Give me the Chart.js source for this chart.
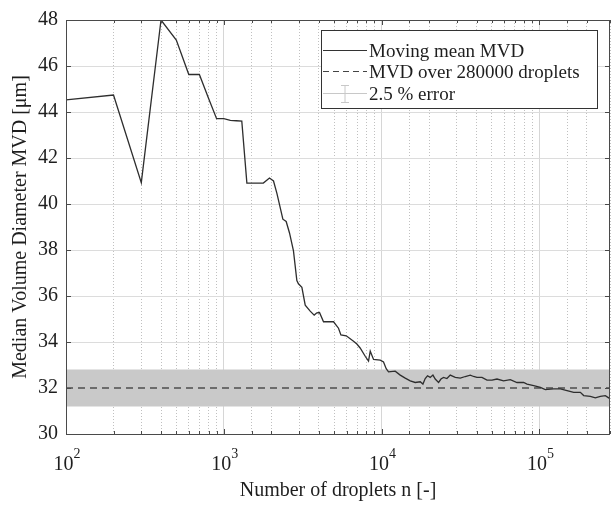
<!DOCTYPE html>
<html><head><meta charset="utf-8">
<script src="https://cdn.jsdelivr.net/npm/chart.js@4/dist/chart.umd.min.js"></script>
<style>html,body{margin:0;padding:0;background:#fff}#wrap{width:612px;height:508px}</style>
</head><body><div id="wrap"><canvas id="c" width="612" height="508"></canvas></div>
<script>
// ---- data ----
const dropletCounts = [100,200,300,400,500,600,700,800,900,1000,1100,1200,1300,1400,1780,1947,2065,2170,2367,2484,2608,2763,2903,2971,3124,3280,3526,3738,3889,4040,4283,4957,5330,5521,5967,6640,6970,7310,7870,8260,8470,8890,9800,10280,10690,11060,12190,13120,14110,15180,16330,17570,18270,18890,19530,20320,21140,21860,22950,23770,24680,25930,27220,29290,31510,33890,36460,38260,40190,43240,46520,50050,53850,59300,65370,72060,79430,83440,91970,101400,108900,123000,135700,149600,164900,181700,190700,210200,226100,243200,261600,274700,280000];
const movingMeanMVD = [44.53,44.74,40.93,48.0,47.13,45.63,45.63,44.6,43.71,43.71,43.64,43.62,43.6,40.91,40.91,41.13,41.0,40.46,39.34,39.24,38.74,37.96,36.67,36.53,36.38,35.6,35.34,35.17,35.27,35.28,34.88,34.88,34.6,34.31,34.27,34.03,33.91,33.74,33.38,33.17,33.6,33.24,33.21,33.13,32.84,32.7,32.73,32.56,32.43,32.31,32.24,32.27,32.17,32.41,32.53,32.46,32.56,32.39,32.24,32.39,32.46,32.41,32.56,32.46,32.43,32.5,32.56,32.5,32.46,32.46,32.34,32.34,32.39,32.31,32.36,32.24,32.24,32.17,32.1,32.03,31.93,31.96,31.96,31.89,31.81,31.81,31.67,31.64,31.57,31.64,31.67,31.57,31.6];
const overallMVD = 32.0;
const bandX = [100, 280000];
const bandUpper = [32.8, 32.8];
const bandLower = [31.2, 31.2];
const xTickExponents = [2, 3, 4, 5];
const yTickValues = [30, 32, 34, 36, 38, 40, 42, 44, 46, 48];
const legendLabels = ['Moving mean MVD', 'MVD over 280000 droplets', '2.5 % error'];
const xTitle = 'Number of droplets n [-]';
const yTitle = 'Median Volume Diameter MVD [μm]';

// ---- styling ----
const FONT = "'Liberation Serif', 'Times New Roman', serif";
const TEXT = '#1e1e1e';
const AXIS = '#4a4a4a';
const isMajor = v => Math.abs(Math.log10(v) - Math.round(Math.log10(v))) < 1e-9;

const pts = (xs, ys) => xs.map((x, i) => ({x, y: ys[i]}));

const decorPlugin = {
  id: 'decor',
  afterDraw(chart) {
    const ctx = chart.ctx, a = chart.chartArea;
    const xs = chart.scales.x, ys = chart.scales.y;
    ctx.save();
    // inward tick marks
    ctx.strokeStyle = AXIS; ctx.lineWidth = 1;
    ctx.beginPath();
    xs.ticks.forEach(t => {
      const px = Math.round(xs.getPixelForValue(t.value)) + 0.5;
      const len = isMajor(t.value) ? 5 : 3;
      ctx.moveTo(px, a.bottom); ctx.lineTo(px, a.bottom - len);
      ctx.moveTo(px, a.top); ctx.lineTo(px, a.top + len);
    });
    ys.ticks.forEach(t => {
      const py = Math.round(ys.getPixelForValue(t.value)) + 0.5;
      ctx.moveTo(a.left, py); ctx.lineTo(a.left + 5, py);
      ctx.moveTo(a.right, py); ctx.lineTo(a.right - 5, py);
    });
    ctx.stroke();
    // box
    ctx.strokeStyle = AXIS;
    ctx.strokeRect(Math.round(a.left) + 0.5, Math.round(a.top) + 0.5, Math.round(a.right - a.left) - 1, Math.round(a.bottom - a.top));
    // x tick labels 10^n
    ctx.fillStyle = TEXT;
    ctx.textBaseline = 'alphabetic';
    xTickExponents.forEach(e => {
      const px = xs.getPixelForValue(Math.pow(10, e));
      ctx.font = '20px ' + FONT;
      const wb = ctx.measureText('10').width;
      ctx.font = '14px ' + FONT;
      const we = ctx.measureText(String(e)).width;
      const x0 = px - (wb + we) / 2 + 1;
      ctx.font = '20px ' + FONT;
      ctx.textAlign = 'left';
      ctx.fillText('10', x0, a.bottom + 36);
      ctx.font = '14px ' + FONT;
      ctx.fillText(String(e), x0 + wb, a.bottom + 24);
    });
    // legend
    const L = {x: 321, y: 30, w: 276, h: 78};
    ctx.fillStyle = '#fff';
    ctx.fillRect(L.x, L.y, L.w, L.h);
    ctx.strokeStyle = '#333';
    ctx.lineWidth = 1;
    ctx.strokeRect(L.x + 0.5, L.y + 0.5, L.w, L.h);
    const rows = [50.5, 71.5, 93.5];
    // solid
    ctx.strokeStyle = '#333'; ctx.lineWidth = 1.2; ctx.setLineDash([]);
    ctx.beginPath(); ctx.moveTo(323, rows[0]); ctx.lineTo(367, rows[0]); ctx.stroke();
    // dashed
    ctx.strokeStyle = '#444'; ctx.setLineDash([6, 4]);
    ctx.beginPath(); ctx.moveTo(323, rows[1]); ctx.lineTo(367, rows[1]); ctx.stroke();
    ctx.setLineDash([]);
    // error bar
    ctx.strokeStyle = '#c8c8c8'; ctx.lineWidth = 1;
    ctx.beginPath();
    ctx.moveTo(323, rows[2]); ctx.lineTo(367, rows[2]);
    ctx.moveTo(345, rows[2] - 8); ctx.lineTo(345, rows[2] + 9);
    ctx.moveTo(341, rows[2] - 8); ctx.lineTo(349, rows[2] - 8);
    ctx.moveTo(341, rows[2] + 9); ctx.lineTo(349, rows[2] + 9);
    ctx.stroke();
    ctx.fillStyle = TEXT;
    ctx.font = '19px ' + FONT;
    ctx.textAlign = 'left';
    legendLabels.forEach((s, i) => ctx.fillText(s, 369, rows[i] + 6.5));
    ctx.restore();
  }
};

new Chart(document.getElementById('c'), {
  type: 'line',
  data: {
    datasets: [
      {label: legendLabels[0], data: pts(dropletCounts, movingMeanMVD), borderColor: '#2e2e2e', borderWidth: 1.3, pointRadius: 0, fill: false, tension: 0, order: 0},
      {label: legendLabels[1], data: pts(bandX, [overallMVD, overallMVD]), borderColor: '#4d4d4d', borderWidth: 1.3, borderDash: [7, 5], pointRadius: 0, fill: false, order: 1},
      {label: legendLabels[2], data: pts(bandX, bandUpper), borderWidth: 0, borderColor: 'rgba(0,0,0,0)', backgroundColor: 'rgb(201,201,201)', pointRadius: 0, fill: '+1', order: 2},
      {label: 'lower', data: pts(bandX, bandLower), borderWidth: 0, borderColor: 'rgba(0,0,0,0)', pointRadius: 0, fill: false, order: 3}
    ]
  },
  options: {
    responsive: false,
    animation: false,
    devicePixelRatio: 1,
    parsing: true,
    layout: {padding: {left: 0, top: 14, right: 2, bottom: 0}},
    plugins: {legend: {display: false}, tooltip: {enabled: false}},
    scales: {
      x: {
        type: 'logarithmic', min: 100, max: 280000,
        afterFit(s) { s.height = 74; },
        ticks: {display: false},
        grid: {drawTicks: false, lineWidth: 1, color: c => (c.tick && isMajor(c.tick.value)) ? '#d6d6d6' : '#c0c0c0'},
        border: {display: false, dash: c => (c.tick && !isMajor(c.tick.value)) ? [1, 2] : []},
        title: {display: true, text: xTitle, color: TEXT, font: {family: FONT, size: 20}, padding: {top: 0, bottom: 5}}
      },
      y: {
        min: 30, max: 48,
        afterFit(s) { s.width = 66; },
        afterBuildTicks(s) { s.ticks = yTickValues.map(v => ({value: v})); },
        ticks: {color: TEXT, font: {family: FONT, size: 20}, padding: 8},
        grid: {drawTicks: false, color: '#dcdcdc', lineWidth: 1},
        border: {display: false},
        title: {display: true, text: yTitle, color: TEXT, font: {family: FONT, size: 20}, padding: {top: 9, bottom: 0}}
      }
    }
  },
  plugins: [decorPlugin]
});
</script></body></html>
